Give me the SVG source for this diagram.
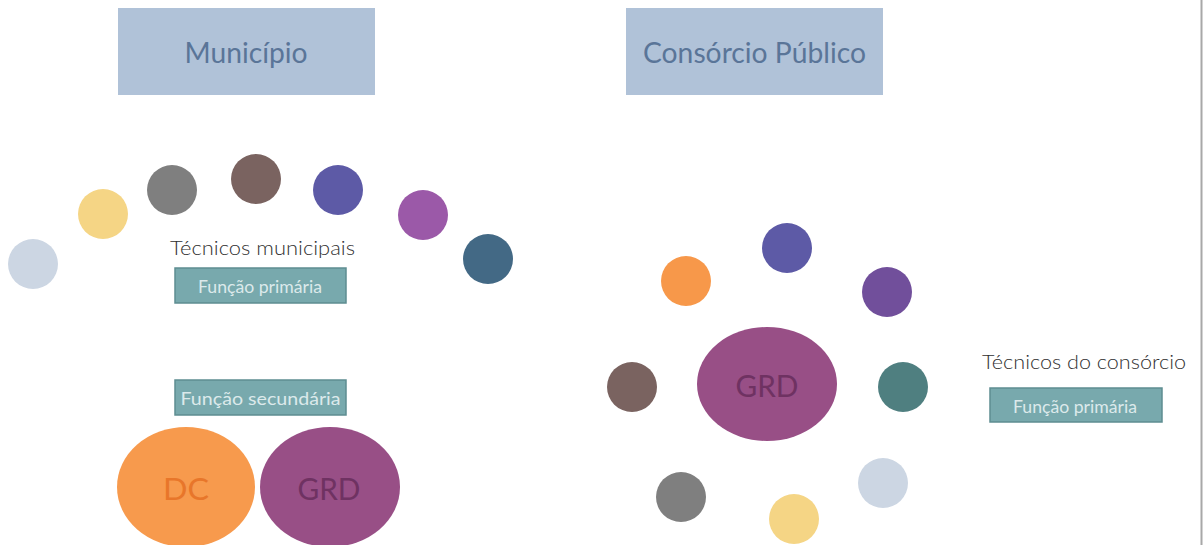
<svg xmlns="http://www.w3.org/2000/svg" width="1203" height="545" viewBox="0 0 1203 545">
<style>
.hdr{fill:#b0c2d8}
.hdrt{font-family:Lato,"Open Sans",sans-serif;font-size:28px;fill:#5a7598;text-anchor:middle;dominant-baseline:central}
.lbl{font-family:Lato,"Open Sans",sans-serif;font-size:20px;font-weight:300;fill:#303030;text-anchor:middle;dominant-baseline:central}
.fn{fill:#78a9ad;stroke:#5e8d91;stroke-width:1.5}
.fnt{font-family:Lato,"Open Sans",sans-serif;font-size:17px;fill:#dce9eb;text-anchor:middle;dominant-baseline:central}
.big{font-family:Lato,"Open Sans",sans-serif;font-size:31px;text-anchor:middle;dominant-baseline:central}
</style>
<rect width="1203" height="545" fill="#ffffff"/>
<line x1="1201.5" y1="0" x2="1201.5" y2="545" stroke="#a8a8a8" stroke-width="2"/>
<g id="municipio"><rect class="hdr" x="118" y="8" width="257" height="87"/><text class="hdrt" x="246" y="52" textLength="123" lengthAdjust="spacingAndGlyphs">Município</text></g>
<g id="consorcio"><rect class="hdr" x="626" y="8" width="257" height="87"/><text class="hdrt" x="754.5" y="52" textLength="223" lengthAdjust="spacingAndGlyphs">Consórcio Público</text></g>
<g id="tecnicos-municipais">
<circle cx="33" cy="264" r="25" fill="#ccd6e3"/>
<circle cx="103" cy="214" r="25" fill="#f5d585"/>
<circle cx="172" cy="190" r="25" fill="#7f7f7f"/>
<circle cx="256" cy="179" r="25" fill="#7a6360"/>
<circle cx="338" cy="190" r="25" fill="#5d5aa6"/>
<circle cx="423" cy="215" r="25" fill="#9b59a8"/>
<circle cx="488" cy="259" r="25" fill="#436985"/>
<text class="lbl" x="262.5" y="247" textLength="185" lengthAdjust="spacingAndGlyphs">Técnicos municipais</text>
</g>
<g id="funcao-primaria-1"><rect class="fn" x="175" y="268" width="171" height="35"/><text class="fnt" x="260" y="286" textLength="124" lengthAdjust="spacingAndGlyphs">Função primária</text></g>
<g id="funcao-secundaria"><rect class="fn" x="175" y="380" width="171" height="35"/><text class="fnt" x="260.5" y="398" textLength="160" lengthAdjust="spacingAndGlyphs">Função secundária</text></g>
<g id="dc"><ellipse cx="186" cy="487" rx="69" ry="60" fill="#f79a4d"/><text class="big" x="186" y="488" fill="#e8762a" textLength="46" lengthAdjust="spacingAndGlyphs">DC</text></g>
<g id="grd-1"><ellipse cx="330" cy="487" rx="70" ry="60" fill="#984f86"/><text class="big" x="329" y="488" fill="#6f3262" textLength="63" lengthAdjust="spacingAndGlyphs">GRD</text></g>
<g id="grd-2"><ellipse cx="767" cy="384" rx="70" ry="57" fill="#984f86"/><text class="big" x="767" y="385" fill="#6f3262" textLength="63" lengthAdjust="spacingAndGlyphs">GRD</text></g>
<g id="tecnicos-consorcio">
<circle cx="686" cy="281" r="25" fill="#f7984a"/>
<circle cx="787" cy="248" r="25" fill="#5d5aa6"/>
<circle cx="887" cy="292" r="25" fill="#714f9b"/>
<circle cx="632" cy="387" r="25" fill="#7a6360"/>
<circle cx="903" cy="387" r="25" fill="#4f7f80"/>
<circle cx="681" cy="497" r="25" fill="#7f7f7f"/>
<circle cx="794" cy="519" r="25" fill="#f5d585"/>
<circle cx="883" cy="483" r="25" fill="#ccd6e3"/>
<text class="lbl" x="1084" y="361" textLength="204" lengthAdjust="spacingAndGlyphs">Técnicos do consórcio</text>
</g>
<g id="funcao-primaria-2"><rect class="fn" x="990" y="388" width="172" height="34"/><text class="fnt" x="1075" y="406" textLength="124" lengthAdjust="spacingAndGlyphs">Função primária</text></g>
<g id="connectors"/>
</svg>
